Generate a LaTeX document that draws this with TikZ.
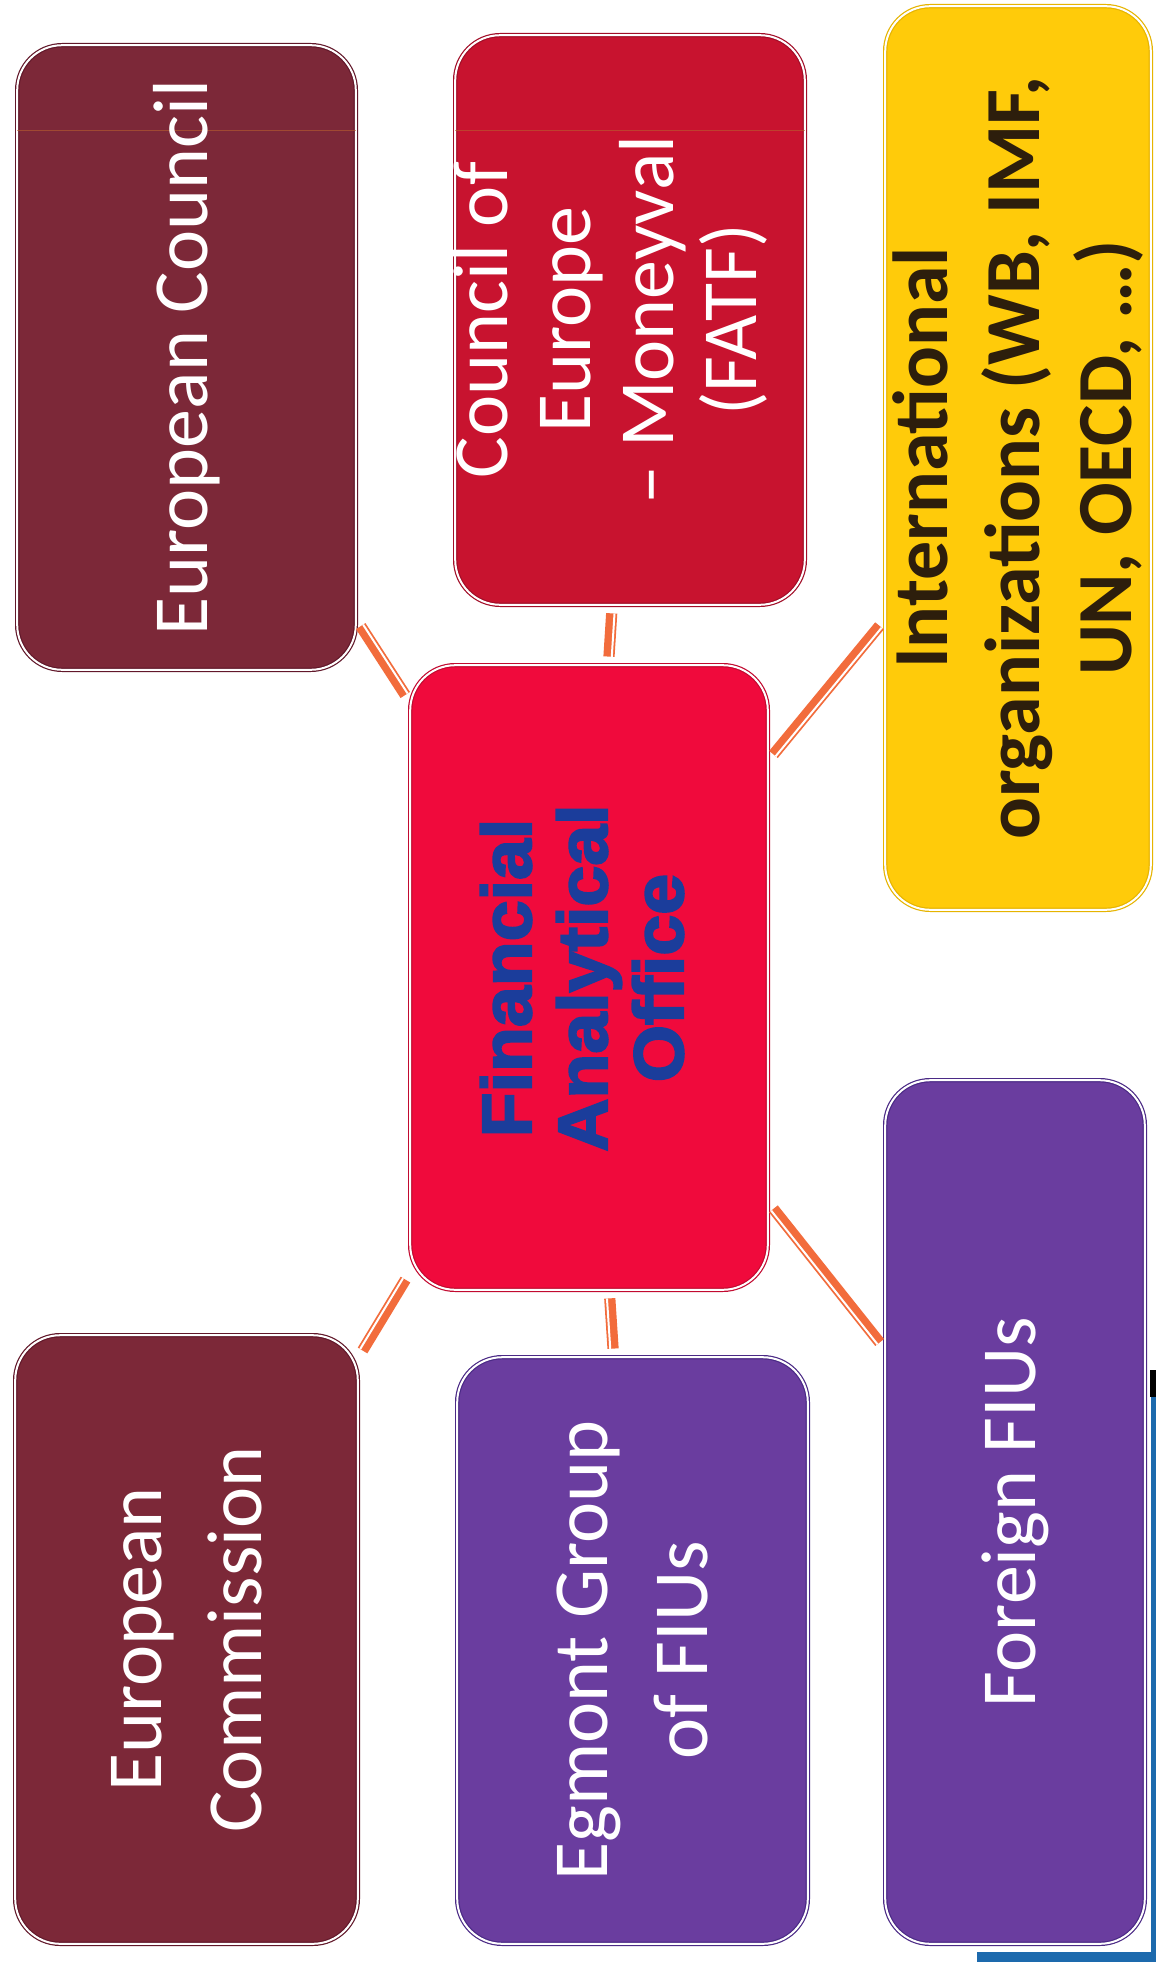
\documentclass[tikz,border=0pt]{standalone}
\usepackage{fontspec}
\setmainfont{Carlito}
\newfontfamily\heavyfont[FakeBold=3,FakeStretch=1.05]{Liberation Sans Bold}
\definecolor{ecf}{HTML}{7C2838}
\definecolor{ecb}{HTML}{62182A}
\definecolor{coef}{HTML}{C8132F}
\definecolor{coeb}{HTML}{A20E28}
\definecolor{faof}{HTML}{F00A3C}
\definecolor{faob}{HTML}{C20A30}
\definecolor{intf}{HTML}{FFCB0A}
\definecolor{intb}{HTML}{E6B400}
\definecolor{purf}{HTML}{6A3D9F}
\definecolor{purb}{HTML}{4B2A86}
\definecolor{connc}{HTML}{F26C3C}
\definecolor{faotext}{HTML}{1B3D9B}
\definecolor{inttext}{HTML}{2D1E0C}
\definecolor{scanblue}{HTML}{1D6AAD}
\definecolor{scanline}{HTML}{B8602E}
\begin{document}
\begin{tikzpicture}[x=0.5pt,y=-0.5pt,
  box/.style={rounded corners=22.5pt, inner sep=0pt, rotate=90,
    line width=0.6pt, double distance=1pt, double=white},
  txt/.style={inner sep=0pt, align=center, rotate=90, text=white,
    font=\fontsize{39}{50}\selectfont},
  conn/.style={draw=connc, line width=5.6pt, shorten >=4pt, shorten <=4pt},
  gapline/.style={postaction={draw=white, line width=1pt, transform canvas={shift={#1}}}}
]
\useasboundingbox[fill=white] (0,0) rectangle (1156,1962);

% scan remnants at the lower right
\fill[scanblue] (1151,1397) rectangle (1156,1962);
\fill[scanblue] (977,1952) rectangle (1156,1962);
\fill[black] (1150,1370) rectangle (1156,1397);

% boxes
\node[box, draw=ecb, fill=ecf, minimum width=312.3pt, minimum height=169.3pt]
  (ec) at (186.5,357.5) {};
\node[box, draw=coeb, fill=coef, minimum width=284.8pt, minimum height=174.8pt]
  (coe) at (630,320) {};
\node[box, draw=intb, fill=intf, minimum width=451.8pt, minimum height=132.8pt]
  (intl) at (1018,458) {};
\node[box, draw=faob, fill=faof, minimum width=312.3pt, minimum height=178.8pt]
  (fao) at (589,977.5) {};
\node[box, draw=ecb, fill=ecf, minimum width=304.3pt, minimum height=171.3pt]
  (ecomm) at (186.5,1639.5) {};
\node[box, draw=purb, fill=purf, minimum width=293.3pt, minimum height=175.3pt]
  (egm) at (632.5,1650.5) {};
\node[box, draw=purb, fill=purf, minimum width=431.8pt, minimum height=129.8pt]
  (ffiu) at (1015,1512) {};

% faint scan line across the two upper boxes
\draw[scanline, line width=0.5pt, opacity=0.6] (17,131) -- (356,131);
\draw[scanline, line width=0.5pt, opacity=0.6] (455,131) -- (805,131);

% texts
\node[txt] (ec-t) at (186.5,357.5) {European Council};
\node[txt, font=\fontsize{39}{41.5}\selectfont] (coe-t) at (610,320)
  {Council of\\Europe\\– Moneyval\\(FATF)};
\node[txt, text=inttext, font=\fontsize{39}{46}\selectfont\bfseries] (intl-t) at (1018,458)
  {International\\organizations (WB, IMF,\\UN, OECD, …)};
\node[txt, text=faotext, font=\fontsize{35}{38}\heavyfont] (fao-t) at (582,978)
  {Financial\\Analytical\\Office};
\node[txt] (ecomm-t) at (186.5,1639.5) {European\\Commission};
\node[txt] (egm-t) at (632.5,1650.5) {Egmont Group\\of FIUs};
\node[txt] (ffiu-t) at (1015,1512) {Foreign FIUs};

% connectors
\draw[conn, gapline={(2.35,-1.55)}] (ec) -- (fao);
\draw[conn, gapline={(2.8,0.17)}] (coe) -- (fao);
\draw[conn, gapline={(2.15,1.8)}] (intl) -- (fao);
\draw[conn, gapline={(-2.4,-1.45)}] (fao) -- (ecomm);
\draw[conn, gapline={(-2.8,0.17)}] (fao) -- (egm);
\draw[conn, gapline={(-2.2,1.75)}] (fao) -- (ffiu);
\end{tikzpicture}
\end{document}
